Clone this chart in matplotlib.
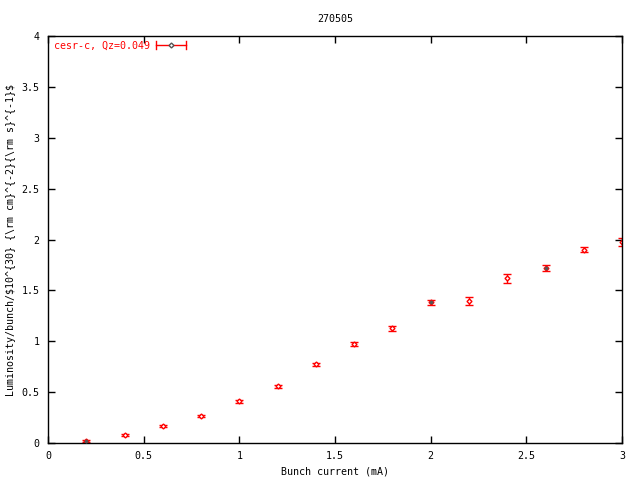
import numpy as np
import matplotlib.pyplot as plt

# data
current = [0.2, 0.4, 0.6, 0.8, 1.0, 1.2, 1.4, 1.6, 1.8, 2.0, 2.2, 2.4, 2.6, 2.8, 3.0]
lumi = [0.02, 0.08, 0.17, 0.265, 0.41, 0.56, 0.775, 0.976, 1.127, 1.383, 1.395, 1.618, 1.717, 1.90, 1.972]
lumi_err = [0.01, 0.01, 0.012, 0.012, 0.015, 0.015, 0.015, 0.02, 0.022, 0.027, 0.04, 0.042, 0.03, 0.025, 0.04]
grey_pts = [0, 9, 12]  # points drawn with a dark centre

plt.rcParams['font.family'] = ['DejaVu Sans Mono']
plt.rcParams['font.size'] = 7.2

fig = plt.figure(figsize=(6.4, 4.8), dpi=100)
ax = fig.add_axes([0.075, 0.077, 0.897, 0.848])

ax.errorbar(current, lumi, yerr=lumi_err, fmt='D', ms=2.5, mfc='white', mec='red',
            mew=1, ecolor='red', elinewidth=1, capsize=3, capthick=1, color='red')
gx = [current[i] for i in grey_pts]
gy = [lumi[i] for i in grey_pts]
ax.plot(gx, gy, 'D', ms=1.5, color='#555555', zorder=5)

ax.set_xlim(0, 3)
ax.set_ylim(0, 4)
ax.set_xticks([0, 0.5, 1, 1.5, 2, 2.5, 3])
ax.set_xticklabels(['0', '0.5', '1', '1.5', '2', '2.5', '3'])
ax.set_yticks([0, 0.5, 1, 1.5, 2, 2.5, 3, 3.5, 4])
ax.set_yticklabels(['0', '0.5', '1', '1.5', '2', '2.5', '3', '3.5', '4'])
ax.tick_params(direction='in', length=5, width=1, top=True, right=True, pad=6)
for s in ax.spines.values():
    s.set_linewidth(1)

ax.set_title('270505', fontsize=7.2, pad=10)
ax.set_xlabel('Bunch current (mA)')
ax.set_ylabel(r'Luminosity/bunch/$10^{30} {\rm cm}^{-2}{\rm s}^{-1}$', parse_math=False)

# key, gnuplot style
ax.text(0.178, 0.977, 'cesr-c, Qz=0.049', color='red', ha='right', va='center',
        transform=ax.transAxes)
ax.plot([0.188, 0.24], [0.977, 0.977], color='red', lw=1, transform=ax.transAxes, clip_on=False)
ax.plot([0.188, 0.188], [0.967, 0.987], color='red', lw=1, transform=ax.transAxes, clip_on=False)
ax.plot([0.24, 0.24], [0.967, 0.987], color='red', lw=1, transform=ax.transAxes, clip_on=False)
ax.plot([0.214], [0.977], 'D', ms=2.5, mfc='white', mec='#555555', transform=ax.transAxes, clip_on=False)

fig.savefig('out.png', dpi=100)
